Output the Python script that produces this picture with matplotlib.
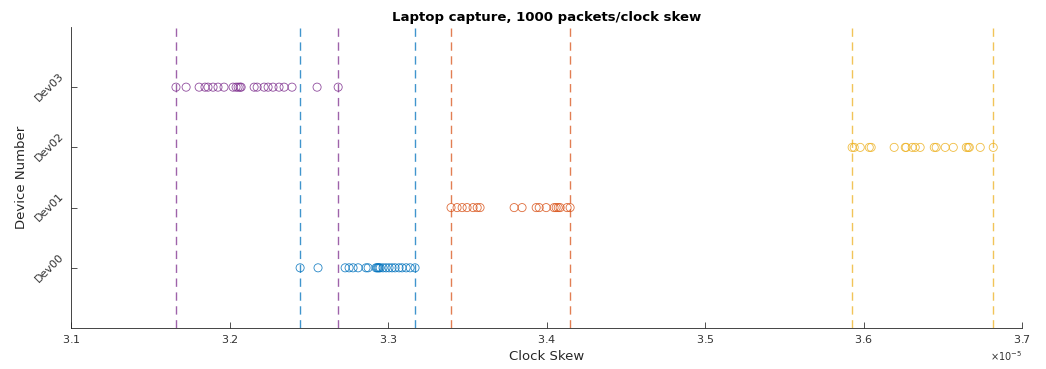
import numpy as np
import matplotlib
matplotlib.use('Agg')
import matplotlib.pyplot as plt

# clock skew values per device (units of 1e-5)
dev00 = [3.2445, 3.2558, 3.2729, 3.2754, 3.2779, 3.2811, 3.2861, 3.2874, 3.2924, 3.2931,
         3.2937, 3.2943, 3.2950, 3.2968, 3.2987, 3.3006, 3.3025, 3.3044, 3.3069, 3.3088,
         3.3114, 3.3139, 3.3170]
dev01 = [3.3397, 3.3435, 3.3467, 3.3498, 3.3536, 3.3562, 3.3580, 3.3795, 3.3845, 3.3934,
         3.3953, 3.3997, 3.4047, 3.4060, 3.4073, 3.4085, 3.4129, 3.4148]
dev02 = [3.5927, 3.5940, 3.5978, 3.6035, 3.6047, 3.6192, 3.6262, 3.6268, 3.6306, 3.6325,
         3.6356, 3.6445, 3.6457, 3.6514, 3.6565, 3.6647, 3.6659, 3.6666, 3.6735, 3.6817]
dev03 = [3.1662, 3.1726, 3.1808, 3.1845, 3.1864, 3.1896, 3.1927, 3.1965, 3.2022, 3.2041,
         3.2054, 3.2066, 3.2073, 3.2155, 3.2174, 3.2218, 3.2243, 3.2274, 3.2312, 3.2344,
         3.2394, 3.2552, 3.2685]
devices = ['Dev00', 'Dev01', 'Dev02', 'Dev03']
colors = ['#0072BD', '#D95319', '#EDB120', '#7E2F8E']

if __name__ == '__main__':
    fig = plt.figure(figsize=(10.46, 3.69), dpi=100)
    ax = fig.add_axes([0.0679, 0.111, 0.9094, 0.816])
    allData = [dev00, dev01, dev02, dev03]
    for i in range(len(allData)):
        x = np.array(allData[i]) * 1e-5
        ax.scatter(x, np.full(len(x), i + 1), s=34, facecolors='none',
                   edgecolors=colors[i], linewidths=0.6, alpha=0.85, zorder=3)
        ax.axvline(x.min(), color=colors[i], linestyle=(0, (6, 4)), linewidth=1.0, alpha=0.75)
        ax.axvline(x.max(), color=colors[i], linestyle=(0, (6, 4)), linewidth=1.0, alpha=0.75)

    ax.set_xlim(3.1e-5, 3.7e-5)
    ax.set_ylim(0, 5)
    ax.set_xticks(np.arange(3.1, 3.71, 0.1) * 1e-5)
    ax.set_yticks([1, 2, 3, 4])
    ax.set_yticklabels(devices, rotation=45, va='center')
    ax.ticklabel_format(axis='x', style='sci', scilimits=(0, 0), useMathText=True)
    ax.xaxis.get_offset_text().set_fontsize(7)
    ax.xaxis.get_offset_text().set_color('#444444')
    ax.tick_params(direction='in', length=4, labelsize=8, colors='#333333', width=0.6)
    for side in ['top', 'right']:
        ax.spines[side].set_visible(False)
    for side in ['left', 'bottom']:
        ax.spines[side].set_color('#262626')
        ax.spines[side].set_linewidth(0.6)
    ax.set_xlabel('Clock Skew', fontsize=9.5, color='#262626')
    ax.set_ylabel('Device Number', fontsize=9.5, color='#262626')
    ax.set_title('Laptop capture, 1000 packets/clock skew', fontsize=9.5, fontweight='bold', pad=4)
    fig.savefig('out.png', dpi=100)
